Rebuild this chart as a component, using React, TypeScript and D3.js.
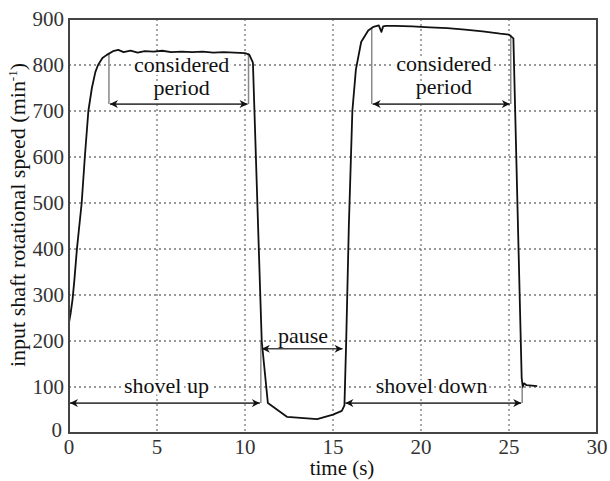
import React, { useEffect, useRef } from "react";
import * as d3 from "d3";

const W = 610;
const H = 481;
const margin = { top: 19, right: 13, bottom: 48, left: 69 };

// measured speed, time (s) / speed (min-1)
const time = [
  0, 0.1, 0.2, 0.3, 0.45, 0.72, 0.9, 1.1, 1.3, 1.5, 1.65, 1.9, 2.15, 2.5, 2.8, 3.1, 3.5, 3.9, 4.3, 4.8, 5.3, 5.8,
  6.4, 7.0, 7.6, 8.2, 8.8, 9.4, 10.0, 10.25, 10.45, 10.95, 11.3, 12.4, 14.1, 15.0, 15.5, 15.65, 15.75, 15.9,
  16.1, 16.3, 16.6, 17.0, 17.3, 17.6, 17.75, 17.85, 18.0, 18.5, 19.5, 20.5, 21.5, 22.5, 23.5, 24.5, 25.0, 25.25,
  25.72, 25.78, 25.85, 26.0, 26.3, 26.6,
];
const speed = [
  240, 262, 290, 330, 400, 500, 600, 700, 750, 785, 800, 815, 822, 830, 833, 828, 831, 827, 830, 829, 831, 828,
  829, 828, 829, 827, 828, 827, 826, 822, 805, 200, 65, 35, 30, 40, 48, 60, 200, 450,
  700, 790, 850, 875, 883, 886, 872, 884, 885, 885, 884, 882, 880, 877, 873, 868, 866, 858,
  120, 100, 108, 104, 103, 102,
];

const xTicks = [0, 5, 10, 15, 20, 25, 30];
const yTicks = [0, 100, 200, 300, 400, 500, 600, 700, 800, 900];

// annotation spans: [from, to, level]
const spans = [
  { x0: 2.27, x1: 10.2, y: 715 },
  { x0: 17.2, x1: 25.1, y: 715 },
  { x0: 0, x1: 10.9, y: 65 },
  { x0: 10.9, x1: 15.6, y: 183 },
  { x0: 15.65, x1: 25.75, y: 65 },
];
// gray markers: [t, from, to]
const markers = [
  { t: 2.27, y0: 715, y1: 825 },
  { t: 10.2, y0: 715, y1: 826 },
  { t: 17.2, y0: 715, y1: 880 },
  { t: 25.1, y0: 715, y1: 866 },
  { t: 10.9, y0: 65, y1: 200 },
  { t: 25.75, y0: 65, y1: 100 },
];
const labels = [
  { t: 6.4, y: 784, text: "considered" },
  { t: 6.4, y: 735, text: "period" },
  { t: 21.3, y: 786, text: "considered" },
  { t: 21.3, y: 737, text: "period" },
  { t: 5.54, y: 87, text: "shovel up" },
  { t: 20.6, y: 87, text: "shovel down" },
  { t: 13.3, y: 196, text: "pause" },
];

export default function App() {
  const ref = useRef<SVGSVGElement | null>(null);

  useEffect(() => {
    const svg = d3.select(ref.current);
    svg.selectAll("*").remove();

    const x = d3.scaleLinear().domain([0, 30]).range([margin.left, W - margin.right]);
    const y = d3.scaleLinear().domain([0, 900]).range([H - margin.bottom, margin.top]);
    const font = "'Liberation Serif', 'Times New Roman', serif";

    const defs = svg.append("defs");
    defs
      .append("marker")
      .attr("id", "ah")
      .attr("viewBox", "0 0 10 10")
      .attr("refX", 10)
      .attr("refY", 5)
      .attr("markerWidth", 12)
      .attr("markerHeight", 8)
      .attr("markerUnits", "userSpaceOnUse")
      .attr("orient", "auto-start-reverse")
      .append("path")
      .attr("d", "M0,0 L10,5 L0,10 L3,5 Z")
      .attr("fill", "#111");

    // grid
    const grid = svg.append("g").attr("stroke", "#777").attr("stroke-width", 1.3).attr("stroke-dasharray", "2,3");
    grid
      .selectAll("line.gx")
      .data(xTicks.slice(1, -1))
      .enter()
      .append("line")
      .attr("x1", (d) => x(d))
      .attr("x2", (d) => x(d))
      .attr("y1", y(900))
      .attr("y2", y(0));
    grid
      .selectAll("line.gy")
      .data(yTicks.slice(1, -1))
      .enter()
      .append("line")
      .attr("x1", x(0))
      .attr("x2", x(30))
      .attr("y1", (d) => y(d))
      .attr("y2", (d) => y(d));

    // labels over the grid, with white halo
    svg
      .append("g")
      .selectAll("text")
      .data(labels)
      .enter()
      .append("text")
      .attr("x", (d) => x(d.t))
      .attr("y", (d) => y(d.y))
      .attr("text-anchor", "middle")
      .attr("font-family", font)
      .attr("font-size", 22)
      .attr("fill", "#111")
      .attr("stroke", "#fff")
      .attr("stroke-width", 6)
      .attr("paint-order", "stroke")
      .text((d) => d.text);

    // gray markers
    svg
      .append("g")
      .selectAll("line")
      .data(markers)
      .enter()
      .append("line")
      .attr("x1", (d) => x(d.t))
      .attr("x2", (d) => x(d.t))
      .attr("y1", (d) => y(d.y0))
      .attr("y2", (d) => y(d.y1))
      .attr("stroke", "#888")
      .attr("stroke-width", 1.5);

    // double arrows
    svg
      .append("g")
      .selectAll("line")
      .data(spans)
      .enter()
      .append("line")
      .attr("x1", (d) => x(d.x0) + 1)
      .attr("x2", (d) => x(d.x1) - 1)
      .attr("y1", (d) => y(d.y))
      .attr("y2", (d) => y(d.y))
      .attr("stroke", "#444")
      .attr("stroke-width", 1.6)
      .attr("marker-start", "url(#ah)")
      .attr("marker-end", "url(#ah)");

    // speed curve
    const pts = time.map((t, i) => [t, speed[i]] as [number, number]);
    const line = d3
      .line<[number, number]>()
      .x((d) => x(d[0]))
      .y((d) => y(d[1]));
    svg
      .append("path")
      .attr("d", line(pts))
      .attr("fill", "none")
      .attr("stroke", "#111")
      .attr("stroke-width", 1.8)
      .attr("stroke-linejoin", "round");

    // frame
    svg
      .append("rect")
      .attr("x", x(0))
      .attr("y", y(900))
      .attr("width", x(30) - x(0))
      .attr("height", y(0) - y(900))
      .attr("fill", "none")
      .attr("stroke", "#444")
      .attr("stroke-width", 2);

    // tick labels
    svg
      .append("g")
      .selectAll("text")
      .data(yTicks)
      .enter()
      .append("text")
      .attr("x", (d) => (d === 0 ? x(0) - 7 : x(0) - 5))
      .attr("y", (d) => (d === 0 ? y(d) + 4 : y(d) + 7))
      .attr("text-anchor", "end")
      .attr("font-family", font)
      .attr("font-size", 21)
      .attr("fill", "#333")
      .text((d) => d);
    svg
      .append("g")
      .selectAll("text")
      .data(xTicks)
      .enter()
      .append("text")
      .attr("x", (d) => x(d))
      .attr("y", y(0) + 21)
      .attr("text-anchor", "middle")
      .attr("font-family", font)
      .attr("font-size", 21)
      .attr("fill", "#333")
      .text((d) => d);

    // axis titles
    svg
      .append("text")
      .attr("x", 342)
      .attr("y", 475)
      .attr("text-anchor", "middle")
      .attr("font-family", font)
      .attr("font-size", 21)
      .attr("fill", "#111")
      .text("time (s)");

    const yl = svg
      .append("text")
      .attr("transform", "translate(25,215) rotate(-90)")
      .attr("text-anchor", "middle")
      .attr("font-family", font)
      .attr("font-size", 22)
      .attr("fill", "#111");
    yl.append("tspan").text("input shaft rotational speed (min");
    yl.append("tspan").attr("dy", -8).attr("font-size", 13).text("-1");
    yl.append("tspan").attr("dy", 8).text(")");
  }, []);

  return (
    <svg
      ref={ref}
      width={W}
      height={H}
      style={{ position: "absolute", left: 0, top: 0, background: "#fff" }}
    />
  );
}
